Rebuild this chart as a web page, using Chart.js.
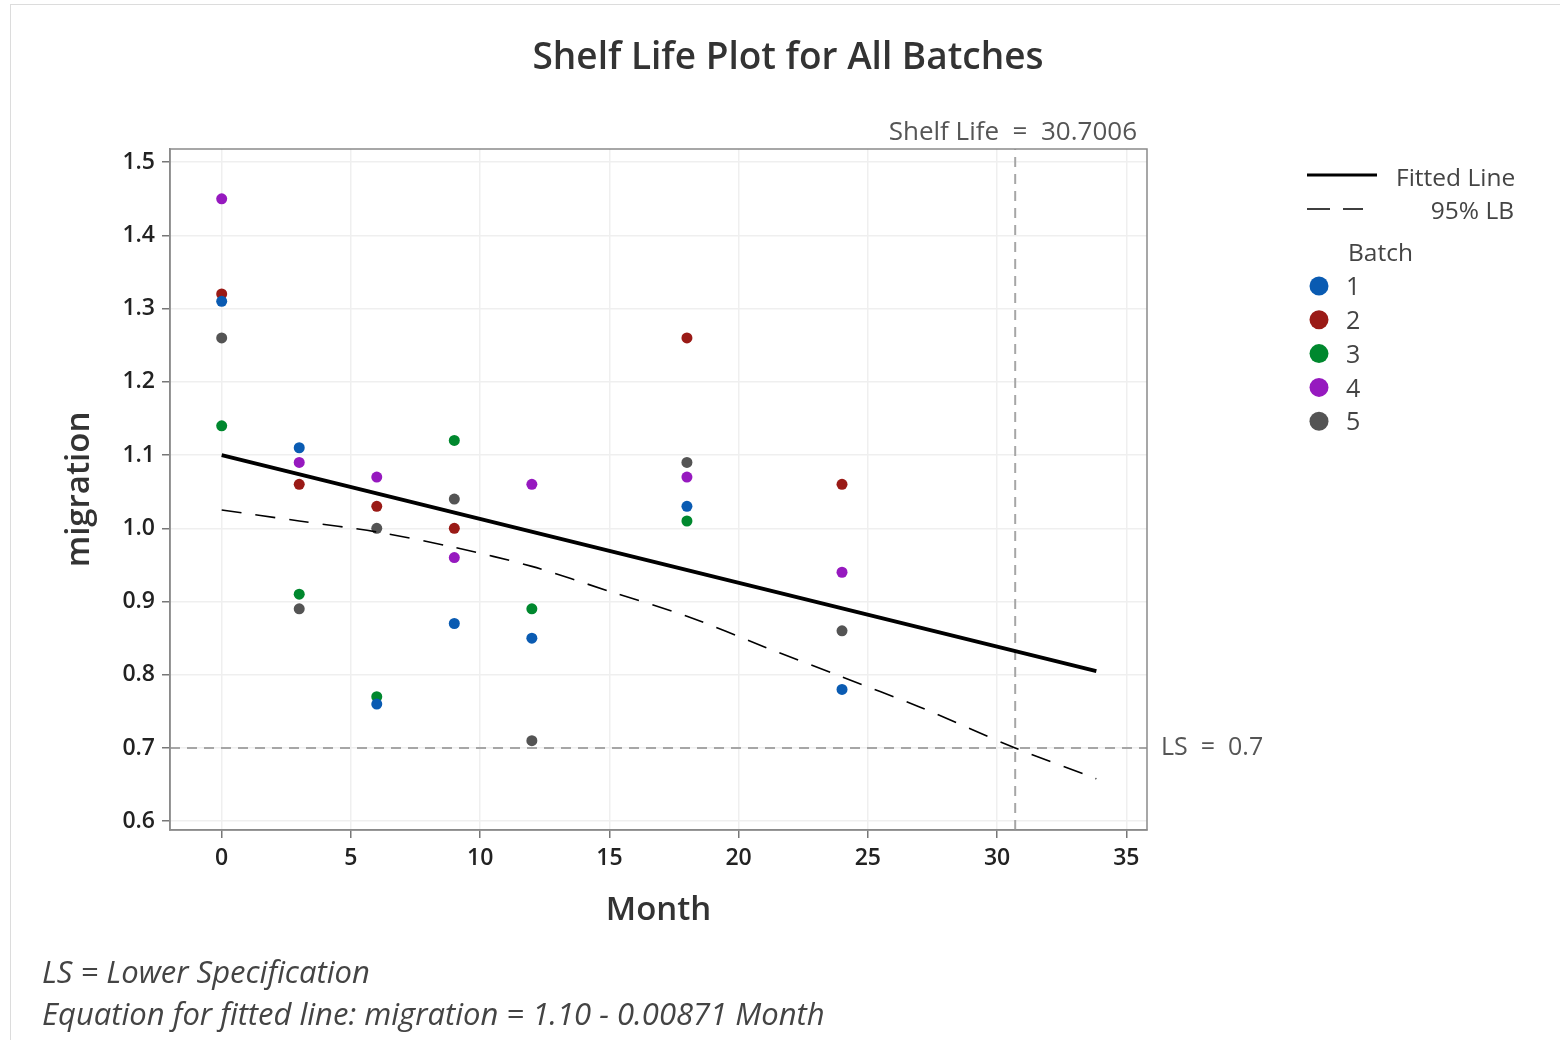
<!DOCTYPE html>
<html>
<head>
<meta charset="utf-8">
<script src="https://cdn.jsdelivr.net/npm/chart.js@4.4.1/dist/chart.umd.min.js"></script>
<style>
  html, body { margin: 0; padding: 0; background: #fff; }
  #wrap { position: relative; width: 1560px; height: 1040px; }
  #frame { position: absolute; left: 10px; top: 4px; right: 0; bottom: 0; border-left: 1px solid #dcdcdc; border-top: 1px solid #dcdcdc; pointer-events: none; }
  canvas { position: absolute; left: 0; top: 0; }
</style>
</head>
<body>
<div id="wrap">
  <canvas id="chart" width="1560" height="1040"></canvas>
  <div id="frame"></div>
</div>
<script>
// months sampled for every batch
const months = [0, 3, 6, 9, 12, 18, 24];

// migration per batch (null = no reading)
const batch1 = [1.31, 1.11, 0.76, 0.87, 0.85, 1.03, 0.78];
const batch2 = [1.32, 1.06, 1.03, 1.00, null, 1.26, 1.06];
const batch3 = [1.14, 0.91, 0.77, 1.12, 0.89, 1.01, null];
const batch4 = [1.45, 1.09, 1.07, 0.96, 1.06, 1.07, 0.94];
const batch5 = [1.26, 0.89, 1.00, 1.04, 0.71, 1.09, 0.86];

const batchNames = ['1', '2', '3', '4', '5'];
const batchColors = ['#0a5bb2', '#9a1a16', '#00882e', '#9619bf', '#545454'];

// fitted line and lower 95% bound
const fitX = [0, 33.84];
const fitY = [1.10, 0.805];
const lbX = [0, 3, 6, 9, 12, 15, 18, 21, 24, 27, 30.7006, 33.84];
const lbY = [1.025, 1.010, 0.995, 0.974, 0.948, 0.914, 0.880, 0.838, 0.797, 0.756, 0.700, 0.658];

const lowerSpec = 0.7;
const shelfLife = 30.7006;

const xMin = -2.0, xMax = 35.8;
const yMin = 0.588, yMax = 1.518;

const FONT = "'Segoe UI', 'Open Sans', 'Noto Sans', sans-serif";

function pts(xs, ys) {
  return xs.map((x, i) => ({ x, y: ys[i] })).filter(p => p.y != null);
}

const batchSets = [batch1, batch2, batch3, batch4, batch5].map((vals, i) => ({
  label: 'Batch ' + batchNames[i],
  data: pts(months, vals),
  backgroundColor: batchColors[i],
  borderWidth: 0,
  pointRadius: 5.5,
  pointHoverRadius: 5.5,
}));

const lineSets = [
  {
    label: 'Fitted Line',
    data: pts(fitX, fitY),
    showLine: true,
    borderColor: '#000',
    borderWidth: 3.8,
    pointRadius: 0,
  },
  {
    label: '95% LB',
    data: pts(lbX, lbY),
    showLine: true,
    borderColor: '#000',
    borderWidth: 1.6,
    borderDash: [20, 14],
    pointRadius: 0,
    tension: 0.3,
  },
];

const refSets = [
  {
    label: 'LS',
    data: [{ x: xMin, y: lowerSpec }, { x: xMax, y: lowerSpec }],
    showLine: true,
    borderColor: '#a6a6a6',
    borderWidth: 2,
    borderDash: [10, 7],
    pointRadius: 0,
  },
  {
    label: 'Shelf Life',
    data: [{ x: shelfLife, y: yMin }, { x: shelfLife, y: yMax }],
    showLine: true,
    borderColor: '#a6a6a6',
    borderWidth: 2,
    borderDash: [10, 7],
    pointRadius: 0,
  },
];

const decorations = {
  id: 'decorations',
  afterDraw(chart) {
    const { ctx, chartArea: a, scales } = chart;
    ctx.save();

    // plot frame
    ctx.strokeStyle = '#8a8a8a';
    ctx.lineWidth = 1.5;
    ctx.strokeRect(a.left, a.top, a.right - a.left, a.bottom - a.top);

    // title
    ctx.fillStyle = '#333';
    ctx.textAlign = 'center';
    ctx.textBaseline = 'middle';
    ctx.font = `600 37px ${FONT}`;
    ctx.fillText('Shelf Life Plot for All Batches', 788, 58);

    // axis titles
    ctx.font = `600 33px ${FONT}`;
    ctx.fillText('Month', (a.left + a.right) / 2, 911);
    ctx.save();
    ctx.translate(80, (a.top + a.bottom) / 2);
    ctx.rotate(-Math.PI / 2);
    ctx.fillText('migration', 0, 0);
    ctx.restore();

    // reference labels
    ctx.fillStyle = '#555';
    ctx.font = `26px ${FONT}`;
    ctx.textAlign = 'right';
    ctx.fillText('Shelf Life  =  30.7006', 1137, 133);
    ctx.font = `25px ${FONT}`;
    ctx.textAlign = 'left';
    ctx.fillText('LS  =  0.7', a.right + 14, scales.y.getPixelForValue(lowerSpec));

    // legend
    ctx.fillStyle = '#444';
    ctx.strokeStyle = '#000';
    ctx.lineWidth = 3;
    ctx.beginPath(); ctx.moveTo(1307, 175); ctx.lineTo(1377, 175); ctx.stroke();
    ctx.lineWidth = 1.5;
    ctx.beginPath();
    ctx.moveTo(1307, 209); ctx.lineTo(1330, 209);
    ctx.moveTo(1343, 209); ctx.lineTo(1363, 209);
    ctx.stroke();
    ctx.font = `24.5px ${FONT}`;
    ctx.textAlign = 'left';
    ctx.fillText('Fitted Line', 1396, 179);
    ctx.textAlign = 'right';
    ctx.fillText('95% LB', 1514, 212);
    ctx.textAlign = 'left';
    ctx.fillText('Batch', 1348, 254);
    batchNames.forEach((n, i) => {
      const y = 286 + i * 33.8;
      ctx.fillStyle = batchColors[i];
      ctx.beginPath(); ctx.arc(1319, y, 9.5, 0, Math.PI * 2); ctx.fill();
      ctx.fillStyle = '#444';
      ctx.font = `25px ${FONT}`;
      ctx.fillText(n, 1346, y + 2);
    });

    // footnotes
    ctx.fillStyle = '#444';
    ctx.font = `italic 31px ${FONT}`;
    ctx.textAlign = 'left';
    ctx.fillText('LS = Lower Specification', 42, 974);
    ctx.fillText('Equation for fitted line: migration = 1.10 - 0.00871 Month', 42, 1016);

    ctx.restore();
  }
};

new Chart(document.getElementById('chart'), {
  type: 'scatter',
  data: { datasets: [...lineSets, ...batchSets, ...refSets] },
  options: {
    responsive: false,
    animation: false,
    layout: { padding: { left: 0, top: 149, right: 413, bottom: 0 } },
    plugins: { legend: { display: false }, tooltip: { enabled: false } },
    scales: {
      x: {
        type: 'linear',
        min: xMin,
        max: xMax,
        ticks: {
          stepSize: 5,
          includeBounds: false,
          color: '#222',
          padding: 7,
          font: { family: FONT, size: 23, weight: '600' },
        },
        grid: { color: '#efefef', lineWidth: 1.5, tickColor: '#777', tickLength: 8 },
        border: { color: '#8a8a8a', width: 1.5 },
        afterFit(s) { s.height = 210; },
      },
      y: {
        type: 'linear',
        min: yMin,
        max: yMax,
        ticks: {
          stepSize: 0.1,
          includeBounds: false,
          color: '#222',
          padding: 7,
          font: { family: FONT, size: 23, weight: '600' },
          callback: v => v.toFixed(1),
        },
        grid: { color: '#efefef', lineWidth: 1.5, tickColor: '#777', tickLength: 8 },
        border: { color: '#8a8a8a', width: 1.5 },
        afterFit(s) { s.width = 170; },
      },
    },
  },
  plugins: [decorations],
});
</script>
</body>
</html>
